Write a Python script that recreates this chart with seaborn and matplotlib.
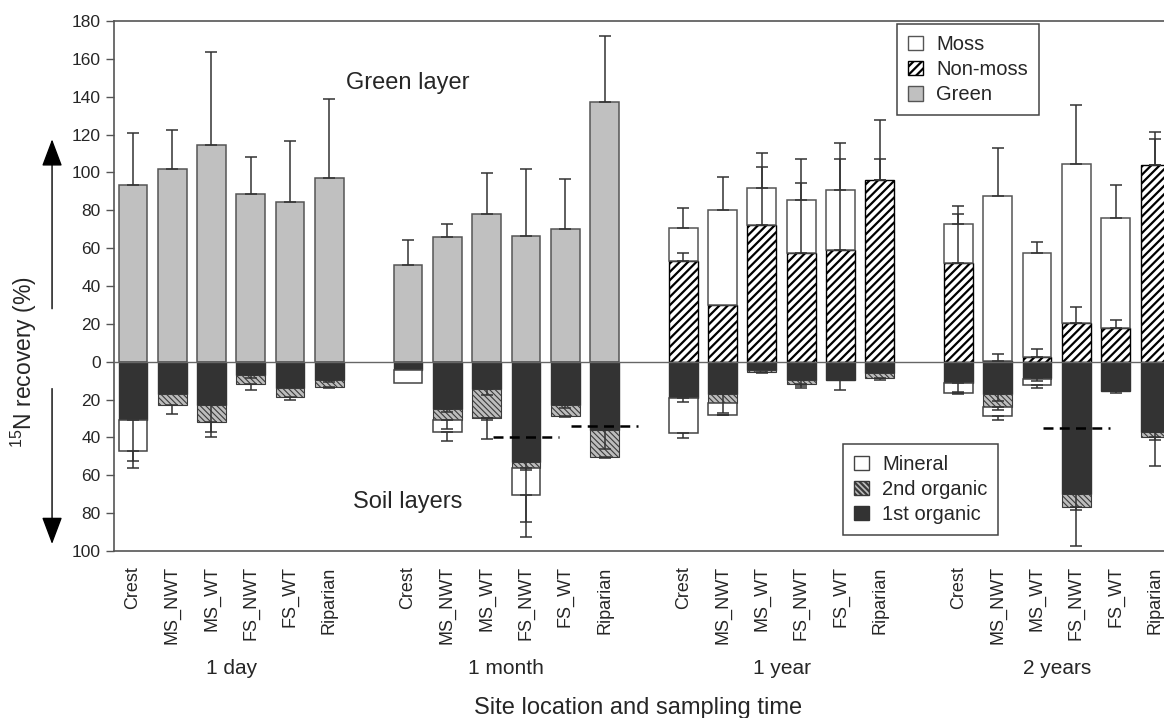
import numpy as np
import pandas as pd
import matplotlib
matplotlib.use('Agg')
import matplotlib.pyplot as plt
import matplotlib.transforms as mtrans
from matplotlib.patches import Patch
import seaborn as sns

# sites and sampling times
sites = ['Crest', 'MS_NWT', 'MS_WT', 'FS_NWT', 'FS_WT', 'Riparian']
times = ['1 day', '1 month', '1 year', '2 years']

# above ground (%)
green = [93.4, 101.8, 114.7, 88.8, 84.6, 96.8,
         51.3, 65.7, 77.8, 66.5, 70.2, 137.0,
         0, 0, 0, 0, 0, 0,
         0, 0, 0, 0, 0, 0]
green_err = [27.2, 20.8, 49.0, 19.2, 31.8, 41.9,
             13.1, 7.0, 21.8, 35.5, 26.5, 35.3,
             0, 0, 0, 0, 0, 0,
             0, 0, 0, 0, 0, 0]
nonmoss = [0, 0, 0, 0, 0, 0,
           0, 0, 0, 0, 0, 0,
           53.0, 30.0, 72.0, 57.4, 59.2, 95.9,
           52.2, 0.5, 2.4, 20.5, 17.9, 104.0]
nonmoss_err = [0, 0, 0, 0, 0, 0,
               0, 0, 0, 0, 0, 0,
               4.2, 0, 30.9, 36.9, 47.9, 11.2,
               25.8, 3.7, 4.4, 8.5, 4.4, 13.5]
moss = [0, 0, 0, 0, 0, 0,
        0, 0, 0, 0, 0, 0,
        17.9, 50.2, 19.7, 28.1, 31.5, 0,
        20.5, 86.8, 55.0, 84.0, 58.1, 0]
moss_err = [0, 0, 0, 0, 0, 0,
            0, 0, 0, 0, 0, 0,
            10.2, 17.4, 18.7, 21.6, 25.0, 31.8,
            9.3, 25.8, 5.8, 30.9, 17.2, 17.5]

# soil layers (%), plotted downwards
org1 = [30.9, 17.2, 22.7, 7.0, 14.1, 9.9,
        4.6, 24.8, 14.6, 53.2, 23.0, 36.2,
        19.0, 16.9, 4.6, 9.7, 9.5, 6.0,
        11.3, 17.2, 8.4, 69.7, 15.6, 37.3]
org1_err = [21.6, 0, 14.4, 1.8, 0, 1.0,
            0, 1.6, 3.0, 31.6, 1.5, 10.0,
            2.4, 10.2, 0, 3.1, 5.3, 0,
            4.7, 3.4, 2.0, 27.6, 0.7, 17.7]
org2 = [0, 5.5, 9.1, 4.6, 4.4, 3.3,
        0, 6.1, 15.1, 2.7, 5.6, 13.9,
        0, 4.9, 0.7, 1.9, 0, 2.8,
        0, 6.5, 0.6, 7.2, 0, 2.4]
org2_err = [0, 5.1, 7.9, 3.3, 1.5, 0.5,
            0, 4.4, 10.9, 1.4, 0.7, 0.6,
            0, 0, 0.6, 2.4, 0, 0.7,
            0, 1.8, 0, 1.4, 0, 1.6]
mineral = [16.5, 0, 0, 0, 0, 0,
           6.8, 6.0, 0.3, 14.5, 0, 0,
           18.9, 6.1, 0, 0, 0, 0,
           5.0, 4.9, 3.1, 0, 0, 0]
mineral_err = [8.5, 0, 0, 0, 0, 0,
               0, 5.1, 1.0, 22.0, 0, 0,
               2.3, 0.3, 0, 0, 0, 0,
               0.7, 2.2, 1.8, 0, 0, 0]

# dashed reference depths: (time index, site index, depth)
dash_marks = [(1, 3, 40), (1, 5, 34), (3, 3, 35)]

sns.set_theme(style='white')
plt.rcParams['font.family'] = ['Liberation Sans', 'DejaVu Sans']
plt.rcParams['mathtext.fontset'] = 'custom'
plt.rcParams['mathtext.rm'] = 'Liberation Sans'
plt.rcParams['hatch.linewidth'] = 1.6

n_site = len(sites)
pos = np.array([t * (n_site + 1) + s for t in range(len(times)) for s in range(n_site)], dtype=float)
df = pd.DataFrame({'pos': pos, 'green': green, 'nonmoss': nonmoss, 'moss': moss,
                   'org1': org1, 'org2': org2, 'mineral': mineral})
df['org1_neg'] = -df['org1']
W = 0.73
EDGE = '#555555'

fig = plt.figure(figsize=(11.64, 7.18), dpi=100)
ax = fig.add_axes([114 / 1164, 1 - 551 / 718, 1050 / 1164, 530 / 718])

# base layers via seaborn (they all start at zero)
g = df[df['green'] > 0]
sns.barplot(data=g, x='pos', y='green', native_scale=True, width=W, color='#c0c0c0',
            edgecolor=EDGE, linewidth=1.1, errorbar=None, saturation=1, ax=ax, zorder=2)
nm = df[df['nonmoss'] > 0]
sns.barplot(data=nm, x='pos', y='nonmoss', native_scale=True, width=W, color='white',
            edgecolor='black', hatch='////', linewidth=1.0, errorbar=None, saturation=1,
            ax=ax, zorder=2)
sns.barplot(data=df, x='pos', y='org1_neg', native_scale=True, width=W, color='#333333',
            edgecolor='#333333', linewidth=1.0, errorbar=None, saturation=1, ax=ax, zorder=2)

# stacked layers
top_nm = df['nonmoss'].values
m = df['moss'].values > 0
ax.bar(pos[m], df['moss'].values[m], bottom=top_nm[m], width=W, color='white',
       edgecolor=EDGE, linewidth=1.1, zorder=2)

o1 = df['org1'].values
o2 = df['org2'].values
mi = df['mineral'].values
m = o2 > 0
bars2 = ax.bar(pos[m], -o2[m], bottom=-o1[m], width=W, color='#bdbdbd',
               edgecolor='#3a3a3a', hatch='\\\\\\\\\\\\', linewidth=0.8, zorder=2)
for b in bars2:
    if hasattr(b, 'set_hatch_linewidth'):
        b.set_hatch_linewidth(0.8)
m = mi > 0
ax.bar(pos[m], -mi[m], bottom=-(o1 + o2)[m], width=W, color='white',
       edgecolor='#444444', linewidth=1.1, zorder=2)


def err_up(y, e):
    e = np.asarray(e, dtype=float)
    k = e > 0
    ax.errorbar(pos[k], np.asarray(y)[k], yerr=[np.zeros(k.sum()), e[k]], fmt='none',
                ecolor='#333333', elinewidth=1.1, capsize=4.5, capthick=1.1, zorder=4)


def err_down(y, e):
    e = np.asarray(e, dtype=float)
    k = e > 0
    ax.errorbar(pos[k], np.asarray(y)[k], yerr=[e[k], np.zeros(k.sum())], fmt='none',
                ecolor='#333333', elinewidth=1.1, capsize=4.5, capthick=1.1, zorder=4)


err_up(df['green'].values, green_err)
err_up(top_nm, nonmoss_err)
err_up(top_nm + df['moss'].values, moss_err)
err_down(-o1, org1_err)
err_down(-(o1 + o2), org2_err)
err_down(-(o1 + o2 + mi), mineral_err)

ax.axhline(0, color='#666666', lw=1.0, zorder=3)

for t, s, d in dash_marks:
    xc = t * (n_site + 1) + s
    ax.hlines(-d, xc - 0.85, xc + 0.85, colors='black', linestyles=(0, (4, 2.5)), lw=1.8, zorder=5)

# axes
ax.set_xlim(-0.48, 26.23)
ax.set_ylim(-100, 180)
yt = np.arange(-100, 181, 20)
ax.set_yticks(yt)
ax.set_yticklabels([str(abs(v)) for v in yt], fontsize=12.5)
ax.set_xticks(pos)
ax.set_xticklabels(sites * len(times), rotation=90, fontsize=13)
ax.tick_params(axis='x', length=0, pad=11)
ax.tick_params(axis='y', length=6, width=1, color=EDGE, pad=3.5, left=True)
ax.set_xlabel('')
ax.set_ylabel('')
for side in ['left', 'top', 'bottom']:
    ax.spines[side].set_color(EDGE)
    ax.spines[side].set_linewidth(1.2)
ax.spines['right'].set_visible(False)

trans = mtrans.blended_transform_factory(ax.transData, ax.transAxes)
for t, name in enumerate(times):
    xc = t * (n_site + 1) + (n_site - 1) / 2
    ax.text(xc, -0.204, name, transform=trans, ha='center', va='top', fontsize=15)

ax.text(7, 147, 'Green layer', ha='center', va='center', fontsize=17)
ax.text(7, -74, 'Soil layers', ha='center', va='center', fontsize=17)

fig.text(638 / 1164, 0.005, 'Site location and sampling time', ha='center', va='baseline', fontsize=17)
fig.text(24 / 1164, 1 - 362 / 718, '$^{15}$N recovery (%)', ha='center', va='center',
         rotation=90, fontsize=16.5)

# up/down arrows in the left margin
xa = mtrans.blended_transform_factory(ax.transAxes, ax.transData)
arr = dict(arrowstyle='-|>,head_length=0.85,head_width=0.32', mutation_scale=20,
           lw=1.0, color='black', shrinkA=0, shrinkB=0)
ax.annotate('', xy=(-0.059, 117.5), xytext=(-0.059, 28), xycoords=xa, textcoords=xa,
            arrowprops=arr, annotation_clip=False)
ax.annotate('', xy=(-0.059, -96.3), xytext=(-0.059, -14.2), xycoords=xa, textcoords=xa,
            arrowprops=arr, annotation_clip=False)

# legends
h1 = [Patch(facecolor='white', edgecolor=EDGE, label='Moss'),
      Patch(facecolor='white', edgecolor='black', hatch='////', label='Non-moss'),
      Patch(facecolor='#c0c0c0', edgecolor=EDGE, label='Green')]
leg1 = ax.legend(handles=h1, loc='upper left', bbox_to_anchor=(0.7457, 0.9943),
                 borderaxespad=0, fontsize=14.5, handlelength=0.75, handleheight=0.75,
                 handletextpad=0.65, labelspacing=0.3, borderpad=0.55, fancybox=False,
                 framealpha=1, edgecolor='#444444')
leg1.get_frame().set_linewidth(1.1)
ax.add_artist(leg1)
h2 = [Patch(facecolor='white', edgecolor='#444444', label='Mineral'),
      Patch(facecolor='#bdbdbd', edgecolor='#3a3a3a', hatch='\\\\\\\\\\\\', label='2nd organic'),
      Patch(facecolor='#333333', edgecolor='#333333', label='1st organic')]
leg2 = ax.legend(handles=h2, loc='upper left', bbox_to_anchor=(0.694, 0.202),
                 borderaxespad=0, fontsize=14.5, handlelength=0.75, handleheight=0.75,
                 handletextpad=0.65, labelspacing=0.3, borderpad=0.55, fancybox=False,
                 framealpha=1, edgecolor='#444444')
leg2.get_frame().set_linewidth(1.1)

fig.savefig('out.png', dpi=100)
